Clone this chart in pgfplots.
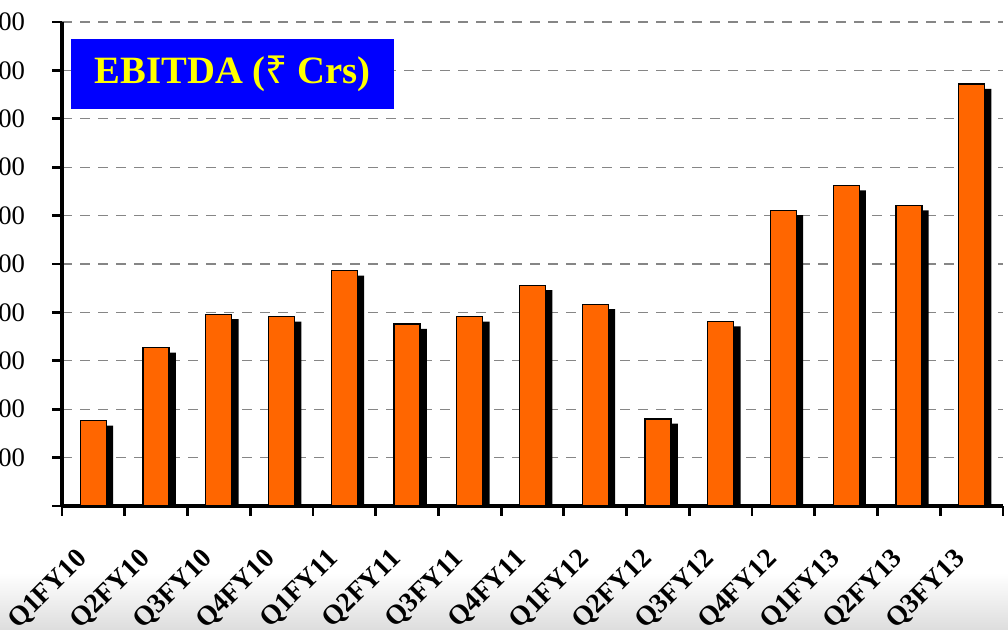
\documentclass[border=0pt]{standalone}
\usepackage{pgfplots}
\usepackage{pgfplotstable}
\usepackage{fontspec}
\pgfplotsset{compat=1.18}
\setmainfont{Liberation Serif}
\newfontfamily\rupeefont{Noto Sans}
\definecolor{barorange}{HTML}{FF6600}
\definecolor{boxblue}{HTML}{0000FF}
\definecolor{titleyellow}{HTML}{FFFF00}

\pgfplotsset{layers/barsunder/.define layer set={axis background, axis grid, main, axis ticks, axis lines, axis tick labels, axis descriptions, axis foreground}{}}

\pgfplotstableread{
idx q      v
0   Q1FY10 176
1   Q2FY10 327
2   Q3FY10 396
3   Q4FY10 391
4   Q1FY11 486
5   Q2FY11 376
6   Q3FY11 391
7   Q4FY11 456
8   Q1FY12 417
9   Q2FY12 180
10  Q3FY12 381
11  Q4FY12 611
12  Q1FY13 662
13  Q2FY13 621
14  Q3FY13 872
}\ebitda

\begin{document}
\begin{tikzpicture}
% slide backdrop at the bottom
\shade[top color=white, bottom color=black!13] (0,0) rectangle (25.2cm,1.4cm);
\begin{axis}[
  set layers=barsunder,
  at={(1.55cm,3.075cm)}, anchor=south west,
  scale only axis,
  width=23.525cm, height=12.1cm,
  xmin=-0.5, xmax=14.5,
  ymin=0, ymax=1000,
  ytick={0,100,...,1000},
  yticklabels={{},100,200,300,400,500,600,700,800,900,1000},
  xtick={-0.5,0.5,...,14.5},
  x tick label as interval,
  xticklabels={Q1FY10,Q2FY10,Q3FY10,Q4FY10,Q1FY11,Q2FY11,Q3FY11,Q4FY11,Q1FY12,Q2FY12,Q3FY12,Q4FY12,Q1FY13,Q2FY13,Q3FY13},
  axis lines=left,
  axis line style={-, line width=2.2pt, black},
  tick align=outside,
  major tick length=0.24cm,
  tick style={line width=2pt, black},
  ymajorgrids,
  grid style={gray!95, line width=0.9pt, dash pattern=on 0.25cm off 0.2cm},
  /pgf/number format/assume math mode=true,
  /pgf/number format/1000 sep={},
  yticklabel style={font=\fontsize{19}{22}\selectfont, anchor=east, xshift=-0.56cm},
  xticklabel style={font=\fontsize{19.5}{22}\selectfont\bfseries, rotate=45, anchor=north east, xshift=-0.75cm, yshift=-0.11cm},
  clip=false,
]
\addplot[ybar, bar width=0.65cm, bar shift=0.17cm, fill=black, draw=none]
  table[x=idx, y expr=\thisrow{v}-10] {\ebitda};
\addplot[ybar, bar width=0.65cm, bar shift=0pt, fill=barorange, draw=black, line width=0.9pt]
  table[x=idx, y=v] {\ebitda};
\node[fill=boxblue, text=titleyellow, minimum width=8.075cm, minimum height=1.76cm, inner sep=0pt,
  font=\fontsize{27.5}{32}\selectfont\bfseries]
  at (rel axis cs:0.1812,0.892) {EBITDA ({\rupeefont ₹} Crs)};
\end{axis}
\pgfresetboundingbox
\path[use as bounding box] (0,0) rectangle (25.2cm,15.725cm);
\end{tikzpicture}
\end{document}
